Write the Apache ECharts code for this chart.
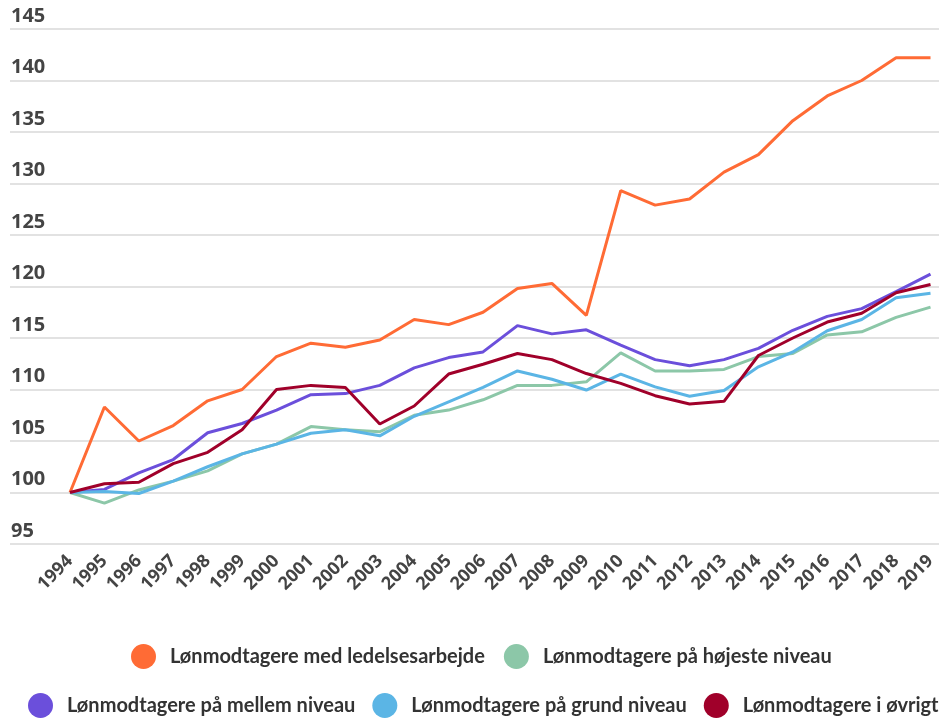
<!DOCTYPE html>
<html>
<head>
<meta charset="utf-8">
<script src="https://cdn.jsdelivr.net/npm/echarts@6/dist/echarts.min.js"></script>
<style>
html,body{margin:0;padding:0;background:#fff;}
#chart{width:939px;height:720px;}
</style>
</head>
<body>
<div id="chart"></div>
<script>
const years = ['1994','1995','1996','1997','1998','1999','2000','2001','2002','2003','2004','2005','2006','2007','2008','2009','2010','2011','2012','2013','2014','2015','2016','2017','2018','2019'];
const seriesNames = ['Lønmodtagere med ledelsesarbejde','Lønmodtagere på højeste niveau','Lønmodtagere på mellem niveau','Lønmodtagere på grund niveau','Lønmodtagere i øvrigt'];
const ledelse = [100,108.3,105.0,106.5,108.9,110.0,113.2,114.5,114.1,114.8,116.8,116.3,117.5,119.8,120.3,117.2,129.3,127.9,128.5,131.1,132.8,136.1,138.5,140.0,142.2,142.2];
const hojeste = [100,98.97,100.25,101.1,102.1,103.75,104.7,106.4,106.1,105.9,107.5,108.0,109.0,110.4,110.4,110.75,113.55,111.8,111.8,111.95,113.2,113.5,115.3,115.6,117.0,118.0];
const mellem = [100,100.3,101.9,103.2,105.8,106.7,108.0,109.5,109.6,110.4,112.1,113.1,113.65,116.2,115.4,115.8,114.3,112.9,112.3,112.9,114.0,115.75,117.1,117.85,119.5,121.2];
const grund = [100,100.1,99.9,101.1,102.5,103.75,104.7,105.75,106.1,105.5,107.4,108.8,110.2,111.8,111.0,109.95,111.5,110.25,109.35,109.9,112.2,113.65,115.7,116.8,118.9,119.35];
const ovrigt = [100,100.85,101.0,102.8,103.9,106.1,110.0,110.4,110.2,106.65,108.4,111.5,112.45,113.5,112.9,111.55,110.6,109.4,108.6,108.85,113.3,115.0,116.55,117.4,119.4,120.2];
const colors = ['#FF6B35','#8CC7A8','#6B4FDB','#5BB5E5','#A0002A'];
const yMin = 95, yMax = 145, yStep = 5;

const chart = echarts.init(document.getElementById('chart'), null, {renderer:'canvas'});
const dataSets = [ledelse, hojeste, mellem, grund, ovrigt];
const legendText = {fontFamily:'Lato', fontSize:20, fontWeight:'bold', color:'#333', padding:[0,0,0,9]};
chart.setOption({
  animation:false,
  backgroundColor:'#fff',
  color: colors,
  grid:[
    {left:70, right:6.5, top:29, bottom:176},
    {left:10, right:0, top:29, bottom:176}
  ],
  legend:[
    {data:[seriesNames[0],seriesNames[1]], left:131, top:644, padding:0, icon:'circle', itemWidth:25, itemHeight:25, itemGap:19, textStyle:legendText},
    {data:[seriesNames[2],seriesNames[3],seriesNames[4]], left:28, top:693, padding:0, icon:'circle', itemWidth:25, itemHeight:25, itemGap:17, textStyle:legendText}
  ],
  xAxis:[
    {type:'category', gridIndex:0, data:years, boundaryGap:false,
     axisLine:{show:false}, axisTick:{show:false}, splitLine:{show:false},
     axisLabel:{rotate:45, interval:0, margin:14, fontFamily:'Open Sans', fontSize:18, fontWeight:'bold', color:'#444'}},
    {type:'value', gridIndex:1, show:false, min:0, max:1}
  ],
  yAxis:[
    {type:'value', gridIndex:0, min:yMin, max:yMax, interval:yStep, show:false, splitLine:{show:false}},
    {type:'value', gridIndex:1, min:yMin, max:yMax, interval:yStep,
     axisLine:{show:false}, axisTick:{show:false},
     splitLine:{show:true, lineStyle:{color:'#e2e2e2', width:2}},
     axisLabel:{inside:true, verticalAlign:'bottom', margin:1, padding:[0,0,3,0], fontFamily:'Open Sans', fontSize:20, fontWeight:'bold', color:'#444'}}
  ],
  series: dataSets.map((d,i)=>({
    name:seriesNames[i], type:'line', xAxisIndex:0, yAxisIndex:0, data:d,
    showSymbol:false, symbol:'none', lineStyle:{width:3, color:colors[i]}, itemStyle:{color:colors[i]}
  }))
});
</script>
</body>
</html>
